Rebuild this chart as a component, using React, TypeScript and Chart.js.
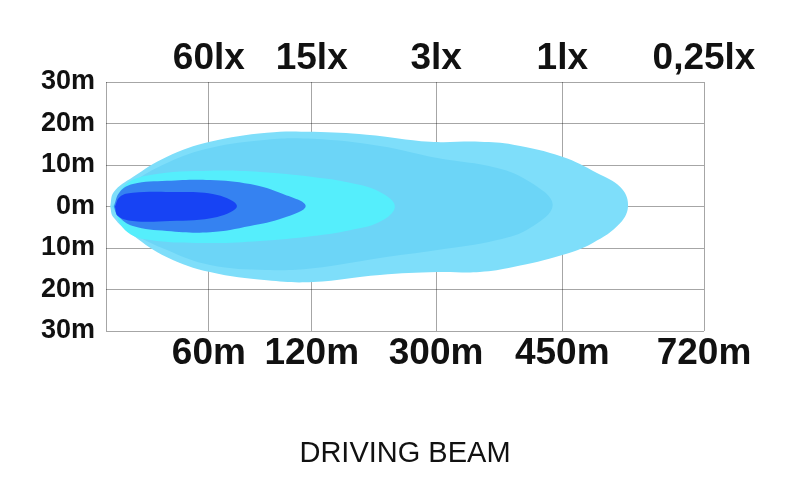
import React, { useEffect, useRef } from 'react';
import { Chart, registerables } from 'chart.js';

Chart.register(...registerables);

// x positions are expressed as % of the plotted width; y is lateral offset in metres
const X_TICK_POS = [0, 17.2, 34.4, 55.2, 76.3, 100];
const X_BOTTOM_LABELS = ['', '60m', '120m', '300m', '450m', '720m'];
const X_TOP_LABELS = ['', '60lx', '15lx', '3lx', '1lx', '0,25lx'];
const Y_MIN = -30;
const Y_MAX = 30;
const Y_STEP = 10;
const TITLE = 'DRIVING BEAM';

// beam zone outlines (closed shapes)
const ZONE_025_X = [0.7, 1.3, 4.5, 10.2, 17.4, 26.9, 34.6, 43.6, 54.2, 62.5, 68.1, 76.3, 82.1, 86.0, 87.3, 86.0, 81.4, 76.3, 68.1, 62.5, 55.4, 45.8, 34.6, 26.9, 17.4, 10.2, 4.5, 1.2, 0.7];
const ZONE_025_Y = [0, 3.5, 7.1, 12.0, 15.6, 17.8, 18.0, 17.3, 15.6, 15.6, 14.9, 12.0, 8.1, 4.7, 0.4, -4.0, -8.8, -11.7, -14.6, -15.8, -15.8, -16.5, -18.2, -17.8, -15.8, -12.2, -6.9, -2.5, 0];

const ZONE_1_X = [1.0, 4.0, 10.2, 17.4, 26.9, 34.6, 45.8, 55.4, 65.4, 70.9, 74.7, 70.9, 65.4, 55.4, 45.8, 34.6, 26.9, 17.4, 10.2, 4.0, 1.0];
const ZONE_1_Y = [0, 5.2, 10.5, 14.1, 16.1, 16.3, 14.6, 11.7, 9.3, 5.9, 0.4, -5.2, -8.1, -10.5, -12.4, -14.9, -15.3, -14.1, -10.5, -5.7, 0];

const ZONE_3_X = [1.2, 3.2, 7.4, 17.4, 25.8, 34.6, 40.8, 45.8, 48.3, 45.8, 40.8, 34.6, 25.8, 17.4, 7.4, 3.2, 1.2];
const ZONE_3_Y = [0, 5.2, 7.6, 8.6, 8.3, 7.1, 5.7, 3.5, 0, -3.7, -5.7, -7.1, -8.3, -8.8, -8.1, -5.7, 0];

const ZONE_15_X = [1.3, 2.3, 4.5, 10.2, 17.4, 24.1, 29.6, 33.4, 29.6, 24.1, 17.4, 10.2, 4.5, 2.0, 1.3];
const ZONE_15_Y = [0, 3.5, 5.4, 6.2, 6.4, 5.4, 3.0, 0.1, -2.8, -4.7, -6.2, -5.9, -4.7, -2.3, 0];

const ZONE_60_X = [1.5, 2.3, 4.5, 10.7, 18.6, 21.9, 18.6, 10.7, 4.5, 2.0, 1.5];
const ZONE_60_Y = [0, 2.3, 3.3, 3.5, 2.8, 0.1, -2.5, -3.5, -3.5, -2.3, 0];

const zip = (xs: number[], ys: number[]) => xs.map((x, i) => ({ x, y: ys[i] }));

const FONT = "'Liberation Sans', Arial, sans-serif";

export default function App() {
  const ref = useRef<HTMLCanvasElement | null>(null);

  useEffect(() => {
    if (!ref.current) return;
    const zone = (label: string, xs: number[], ys: number[], color: string) => ({
      label,
      data: zip(xs, ys),
      xAxisID: 'x',
      yAxisID: 'y',
      backgroundColor: color,
      borderColor: color,
      borderWidth: 0,
      pointRadius: 0,
      tension: 0.4,
      fill: 'shape',
    });
    const chart = new Chart(ref.current, {
      type: 'line',
      data: {
        datasets: [
          zone('60lx', ZONE_60_X, ZONE_60_Y, '#1743f4'),
          zone('15lx', ZONE_15_X, ZONE_15_Y, '#3582f1'),
          zone('3lx', ZONE_3_X, ZONE_3_Y, '#55eefc'),
          zone('1lx', ZONE_1_X, ZONE_1_Y, '#6cd5f7'),
          zone('0,25lx', ZONE_025_X, ZONE_025_Y, '#7edefa'),
        ] as any,
      },
      options: {
        responsive: false,
        animation: false,
        devicePixelRatio: 1,
        layout: { padding: { left: 0, right: 96, top: 0, bottom: 0 } },
        plugins: { legend: { display: false }, tooltip: { enabled: false }, title: { display: false } },
        scales: {
          x: {
            type: 'linear',
            position: 'bottom',
            min: 0,
            max: 100,
            z: 1,
            afterBuildTicks: (s: any) => { s.ticks = X_TICK_POS.map((v) => ({ value: v })); },
            afterFit: (s: any) => { s.height = 164; s.paddingLeft = 0; s.paddingRight = 0; },
            grid: { color: 'rgba(0,0,0,0.35)', lineWidth: 1, drawTicks: false },
            border: { display: false },
            ticks: {
              autoSkip: false,
              maxRotation: 0,
              minRotation: 0,
              padding: 1,
              color: '#111',
              font: { family: FONT, size: 37, weight: 'bold' },
              callback: (_v: any, i: number) => X_BOTTOM_LABELS[i],
            },
            title: {
              display: true,
              text: TITLE,
              color: '#111',
              font: { family: FONT, size: 29, weight: 'normal' },
              padding: { top: 0, bottom: 24 },
            },
          },
          xTop: {
            type: 'linear',
            position: 'top',
            min: 0,
            max: 100,
            afterBuildTicks: (s: any) => { s.ticks = X_TICK_POS.map((v) => ({ value: v })); },
            afterFit: (s: any) => { s.height = 82; s.paddingLeft = 0; s.paddingRight = 0; },
            grid: { display: false, drawTicks: false },
            border: { display: false },
            ticks: {
              autoSkip: false,
              maxRotation: 0,
              minRotation: 0,
              padding: 1,
              color: '#111',
              font: { family: FONT, size: 37, weight: 'bold' },
              callback: (_v: any, i: number) => X_TOP_LABELS[i],
            },
          },
          y: {
            type: 'linear',
            position: 'left',
            min: Y_MIN,
            max: Y_MAX,
            z: 1,
            afterFit: (s: any) => { s.width = 106; },
            grid: { color: 'rgba(0,0,0,0.35)', lineWidth: 1, drawTicks: false },
            border: { display: false },
            ticks: {
              stepSize: Y_STEP,
              padding: 11,
              color: '#111',
              font: { family: FONT, size: 27, weight: 'bold' },
              callback: (v: any) => `${Math.abs(Number(v))}m`,
            },
          },
        },
      } as any,
    });
    return () => chart.destroy();
  }, []);

  return (
    <div style={{ position: 'absolute', left: 0, top: 0, width: 800, height: 495, background: '#fff' }}>
      <canvas ref={ref} width={800} height={495} />
    </div>
  );
}
